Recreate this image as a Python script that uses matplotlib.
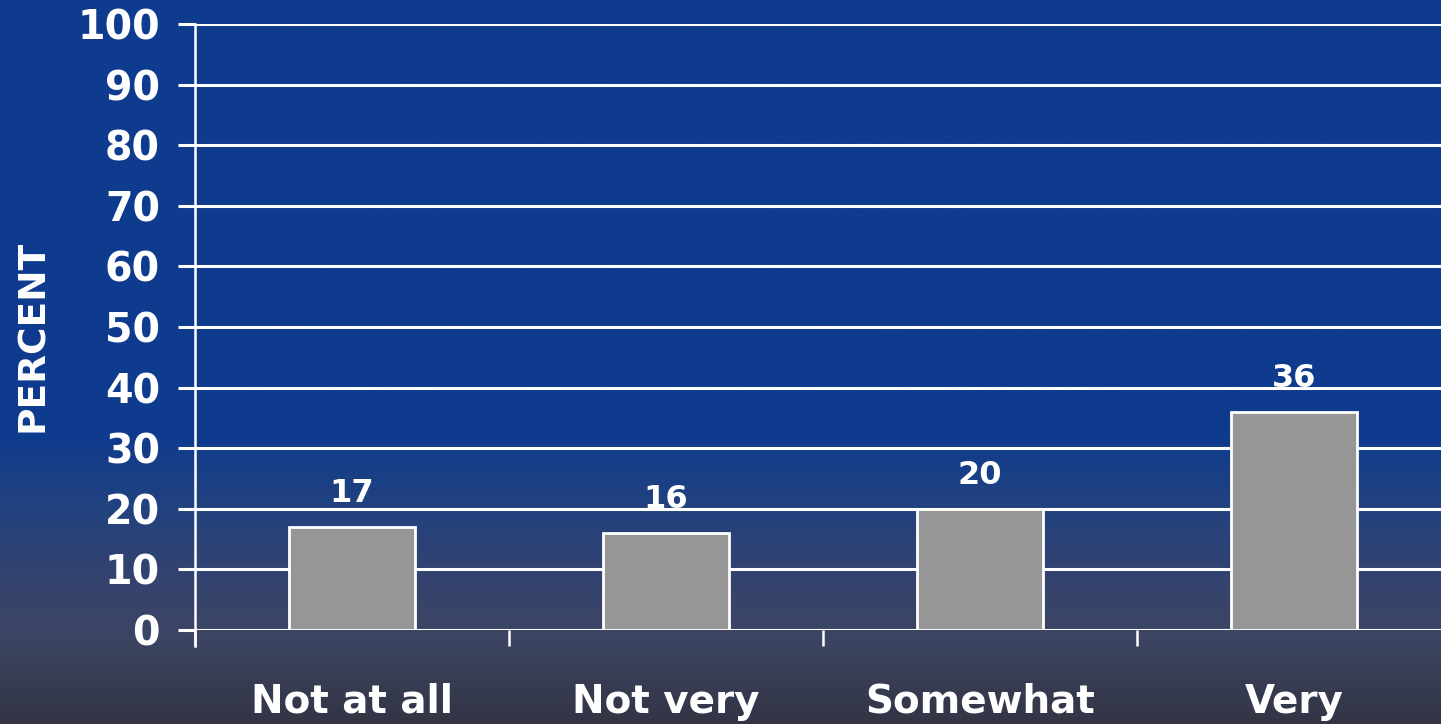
import matplotlib
matplotlib.use("Agg")
import matplotlib.pyplot as plt
import numpy as np
from matplotlib.colors import LinearSegmentedColormap

# data
categories = ["Not at all", "Not very", "Somewhat", "Very"]
percent = [17, 16, 20, 36]
yticks = [0, 10, 20, 30, 40, 50, 60, 70, 80, 90, 100]

plt.rcParams["font.family"] = ["DejaVu Sans"]
plt.rcParams["font.weight"] = "bold"

fig = plt.figure(figsize=(14.41, 7.24), dpi=100)

# background gradient (top blue -> bottom slate)
bg = fig.add_axes([0, 0, 1, 1], zorder=-10)
cmap = LinearSegmentedColormap.from_list(
    "bg",
    [(0.0, "#0e3b8e"), (0.60, "#0e3b8e"), (0.70, "#22427f"),
     (0.80, "#34436f"), (0.88, "#3c4563"), (1.0, "#333545")],
)
grad = np.linspace(0, 1, 512).reshape(-1, 1)
bg.imshow(grad, aspect="auto", cmap=cmap, extent=[0, 1, 0, 1], origin="upper")
bg.set_axis_off()

# main axes (right edge runs past the figure, like the original)
left, bottom = 195 / 1441, (724 - 630) / 724
width, height = (1451 - 195) / 1441, (630 - 24) / 724
ax = fig.add_axes([left, bottom, width, height])
ax.patch.set_alpha(0)

x = np.arange(len(categories))
ax.bar(x, percent, width=0.4, color="#969696", edgecolor="white",
       linewidth=2.0, zorder=3)

for xi, v in zip(x, percent):
    ax.text(xi, v + 3.0, str(v), ha="center", va="bottom", color="white",
            fontsize=23, fontweight="bold", zorder=5)

ax.set_xlim(-0.5, len(categories) - 0.5)
ax.set_ylim(0, 100)
ax.set_yticks(yticks)
ax.yaxis.grid(True, color="white", linewidth=2.2, zorder=1)
ax.set_axisbelow(True)

for s in ["top", "right"]:
    ax.spines[s].set_visible(False)
ax.spines["bottom"].set_visible(False)
ax.spines["left"].set_color("white")
ax.spines["left"].set_linewidth(1.8)
ax.spines["left"].set_bounds(-2.6, 100)
ax.spines["left"].set_clip_on(False)

ax.tick_params(axis="y", colors="white", length=12.2, width=2.2, pad=13,
               labelsize=28.5)
for lbl in ax.get_yticklabels():
    lbl.set_fontweight("bold")

# category separators below the axis
ax.set_xticks(np.arange(len(categories) + 1) - 0.5)
ax.set_xticklabels([])
ax.tick_params(axis="x", colors="white", length=11.5, width=1.8, direction="out")
for xi, c in zip(x, categories):
    ax.text(xi, -11.8, c, ha="center", va="center", color="white",
            fontsize=28, fontweight="bold", clip_on=False)

fig.text(33 / 1441, 1 - 336 / 724, "PERCENT", rotation=90, ha="center",
         va="center", color="white", fontsize=27, fontweight="bold")

fig.savefig("out.png", dpi=100)
